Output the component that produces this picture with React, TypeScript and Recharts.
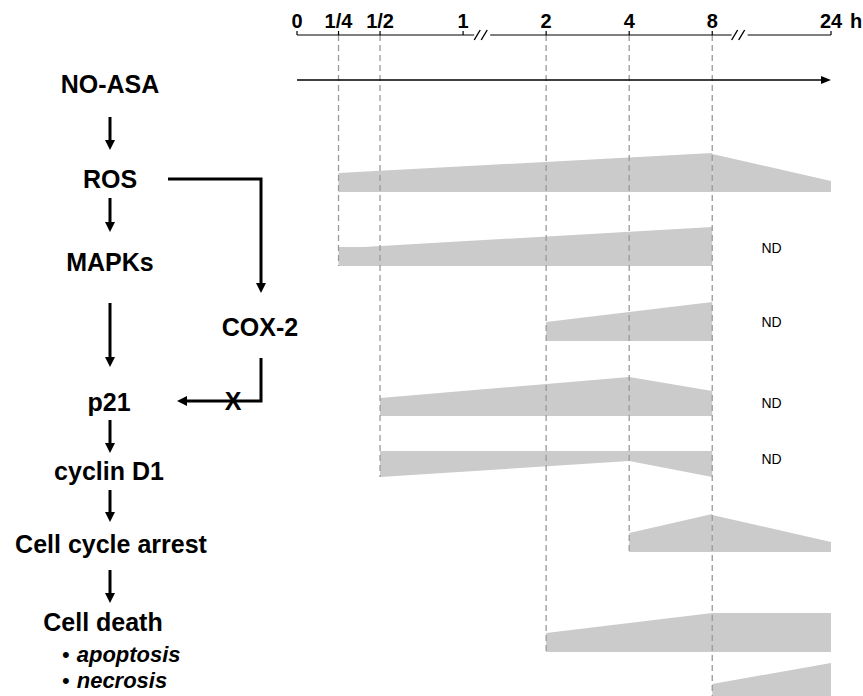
import React from "react";
import { ComposedChart, Area, XAxis, YAxis, ReferenceLine, ReferenceDot } from "recharts";

// broken time axis: tick hours, their labels and where they sit along the axis
const TICK_HOURS = [0, 0.25, 0.5, 1, 2, 4, 8, 24];
const TICK_LABELS = ["0", "1/4", "1/2", "1", "2", "4", "8", "24"];
const TICK_POS = [0, 0.5, 1, 2, 3, 4, 5, 6.43];
const BREAK_POS = [2.23, 5.33];

// wedge heights, [hour, level]
const ROS_RISE = [[0.25, 19], [8, 39]];
const ROS_FALL = [[8, 38], [24, 11]];
const MAPK_LEVEL = [[0.25, 19], [0.4, 19], [8, 39]];
const COX2_LEVEL = [[2, 19], [8, 39]];
const P21_LEVEL = [[0.5, 18], [4, 39], [8, 25]];
const CYCLIN_DROP = [[0.5, 26], [4, 10], [8, 26]];
const ARREST_RISE = [[4, 19], [8, 38]];
const ARREST_FALL = [[8, 37], [24, 10]];
const APOPTOSIS_LEVEL = [[2, 19], [8, 39], [24, 39]];
const NECROSIS_LEVEL = [[8, 19], [24, 40]];

const ND_HOUR = 16;

const W = 863;
const H = 696;
const AXIS_Y = 35;
const ARROW_Y = 80;
const GRAY = "#cbcbcb";
const FONT = "'Liberation Sans', Arial, Helvetica, sans-serif";

const hourToPos = (h: number) => {
  for (let i = 1; i < TICK_HOURS.length; i++) {
    if (h <= TICK_HOURS[i]) {
      const f = (h - TICK_HOURS[i - 1]) / (TICK_HOURS[i] - TICK_HOURS[i - 1]);
      return TICK_POS[i - 1] + f * (TICK_POS[i] - TICK_POS[i - 1]);
    }
  }
  return TICK_POS[TICK_POS.length - 1];
};

// row layout: baseline of each wedge (hanging = drawn down from a flat top)
const WEDGES = [
  { key: "ros1", pts: ROS_RISE, base: 192 },
  { key: "ros2", pts: ROS_FALL, base: 192 },
  { key: "mapk", pts: MAPK_LEVEL, base: 266 },
  { key: "cox2", pts: COX2_LEVEL, base: 341 },
  { key: "p21", pts: P21_LEVEL, base: 416 },
  { key: "cyclin", pts: CYCLIN_DROP, base: 451, hanging: true },
  { key: "arrest1", pts: ARREST_RISE, base: 552 },
  { key: "arrest2", pts: ARREST_FALL, base: 552 },
  { key: "apop", pts: APOPTOSIS_LEVEL, base: 652 },
  { key: "necro", pts: NECROSIS_LEVEL, base: 703 },
];

const wedgeData = (w: any) =>
  w.pts.map(([h, v]: number[]) => ({
    t: hourToPos(h),
    v: w.hanging ? [w.base, w.base + v] : [w.base, w.base - v],
  }));

// dashed guides: hour and where they stop
const GUIDES = [[0.25, 266], [0.5, 477], [2, 652], [4, 552], [8, 696]];
const ND_Y = [248, 322, 403, 459];

const TimeTick = (props: any) => {
  const { x, payload } = props;
  const i = TICK_POS.indexOf(payload.value);
  const label = TICK_LABELS[i];
  const last = i === TICK_POS.length - 1;
  return (
    <g fontFamily={FONT} fontWeight="bold" fontSize={20} fill="#000">
      <text x={x} y={AXIS_Y - 7} textAnchor="middle">{label}</text>
      {last && <text x={x + 19} y={AXIS_Y - 7} textAnchor="start">h</text>}
    </g>
  );
};

const BreakMark = (p: any) => {
  const { cx, cy } = p;
  return (
    <g>
      <rect x={cx - 8} y={cy - 2} width={16} height={4} fill="#fff" />
      <line x1={cx - 8} y1={cy + 5} x2={cx - 2} y2={cy - 5} stroke="#000" strokeWidth={1.4} />
      <line x1={cx - 1} y1={cy + 5} x2={cx + 5} y2={cy - 5} stroke="#000" strokeWidth={1.4} />
    </g>
  );
};

const TimeArrow = (p: any) => {
  const { x1, y1, x2, y2 } = p;
  return (
    <g>
      <line x1={x1} y1={y1} x2={x2 - 8} y2={y2} stroke="#000" strokeWidth={1.3} />
      <polygon points={`${x2},${y2} ${x2 - 10},${y2 - 4} ${x2 - 10},${y2 + 4}`} fill="#000" />
    </g>
  );
};

const NdLabel = (p: any) => (
  <text x={p.cx} y={p.cy + 5} textAnchor="middle" fontFamily={FONT} fontSize={14} fill="#000">
    ND
  </text>
);

// pathway on the left
const NODES = [
  { text: "NO-ASA", x: 110, y: 93 },
  { text: "ROS", x: 110, y: 188 },
  { text: "MAPKs", x: 110, y: 271 },
  { text: "COX-2", x: 260, y: 336 },
  { text: "p21", x: 109, y: 411 },
  { text: "cyclin D1", x: 109, y: 480 },
  { text: "Cell cycle arrest", x: 111, y: 553 },
  { text: "Cell death", x: 103, y: 631 },
];
const DOWN_ARROWS = [[117, 150], [198, 232], [303, 367], [420, 453], [490, 522], [570, 603]];
const BULLETS = [
  { text: "apoptosis", y: 662 },
  { text: "necrosis", y: 688 },
];

const DownArrow = ({ x, y1, y2 }: { x: number; y1: number; y2: number }) => (
  <g>
    <line x1={x} y1={y1} x2={x} y2={y2 - 8} stroke="#000" strokeWidth={3} />
    <polygon points={`${x},${y2} ${x - 5},${y2 - 10} ${x + 5},${y2 - 10}`} fill="#000" />
  </g>
);

const Pathway = () => (
  <svg width={300} height={H} style={{ position: "absolute", left: 0, top: 0 }}>
    <g fontFamily={FONT} fontWeight="bold" fontSize={25} fill="#000">
      {NODES.map((n) => (
        <text key={n.text} x={n.x} y={n.y} textAnchor="middle">
          {n.text}
        </text>
      ))}
      {BULLETS.map((b) => (
        <text key={b.text} x={62} y={b.y} fontSize={22}>
          <tspan fontWeight="normal">•</tspan>
          <tspan fontStyle="italic" dx={7}>{b.text}</tspan>
        </text>
      ))}
      <text x={233} y={410} textAnchor="middle">X</text>
    </g>
    {DOWN_ARROWS.map(([a, b]) => (
      <DownArrow key={a} x={110} y1={a} y2={b} />
    ))}
    <polyline points="168,179 261,179 261,285" fill="none" stroke="#000" strokeWidth={3} />
    <polygon points="261,293 256,283 266,283" fill="#000" />
    <polyline points="261,358 261,401 186,401" fill="none" stroke="#000" strokeWidth={3} />
    <polygon points="177,401 187,396 187,406" fill="#000" />
  </svg>
);

export default function App() {
  return (
    <div style={{ position: "absolute", left: 0, top: 0, width: W, height: H, background: "#fff" }}>
      <ComposedChart width={W} height={H} margin={{ top: 5, right: 32, bottom: 0, left: 297 }}>
        <XAxis
          type="number"
          dataKey="t"
          orientation="top"
          domain={[0, TICK_POS[TICK_POS.length - 1]]}
          ticks={TICK_POS}
          interval={0}
          tick={<TimeTick />}
          tickSize={4}
          height={30}
          stroke="#000"
          strokeWidth={1.2}
          allowDataOverflow
        />
        <YAxis type="number" hide domain={[AXIS_Y, H]} reversed allowDataOverflow />
        {WEDGES.map((w) => (
          <Area
            key={w.key}
            data={wedgeData(w)}
            dataKey="v"
            type="linear"
            stroke="none"
            fill={GRAY}
            fillOpacity={1}
            dot={false}
            activeDot={false}
            isAnimationActive={false}
          />
        ))}
        {GUIDES.map(([h, end]) => (
          <ReferenceLine
            key={h}
            segment={[{ x: hourToPos(h), y: AXIS_Y }, { x: hourToPos(h), y: end }]}
            stroke="#9a9a9a"
            strokeWidth={1.3}
            strokeDasharray="6 4"
            ifOverflow="visible"
          />
        ))}
        <ReferenceLine
          segment={[{ x: 0, y: ARROW_Y }, { x: TICK_POS[TICK_POS.length - 1], y: ARROW_Y }]}
          shape={<TimeArrow />}
          ifOverflow="visible"
        />
        {BREAK_POS.map((b) => (
          <ReferenceDot key={b} x={b} y={AXIS_Y} r={0} shape={<BreakMark />} ifOverflow="visible" />
        ))}
        {ND_Y.map((y) => (
          <ReferenceDot key={y} x={hourToPos(ND_HOUR)} y={y} r={0} shape={<NdLabel />} ifOverflow="visible" />
        ))}
      </ComposedChart>
      <Pathway />
    </div>
  );
}
